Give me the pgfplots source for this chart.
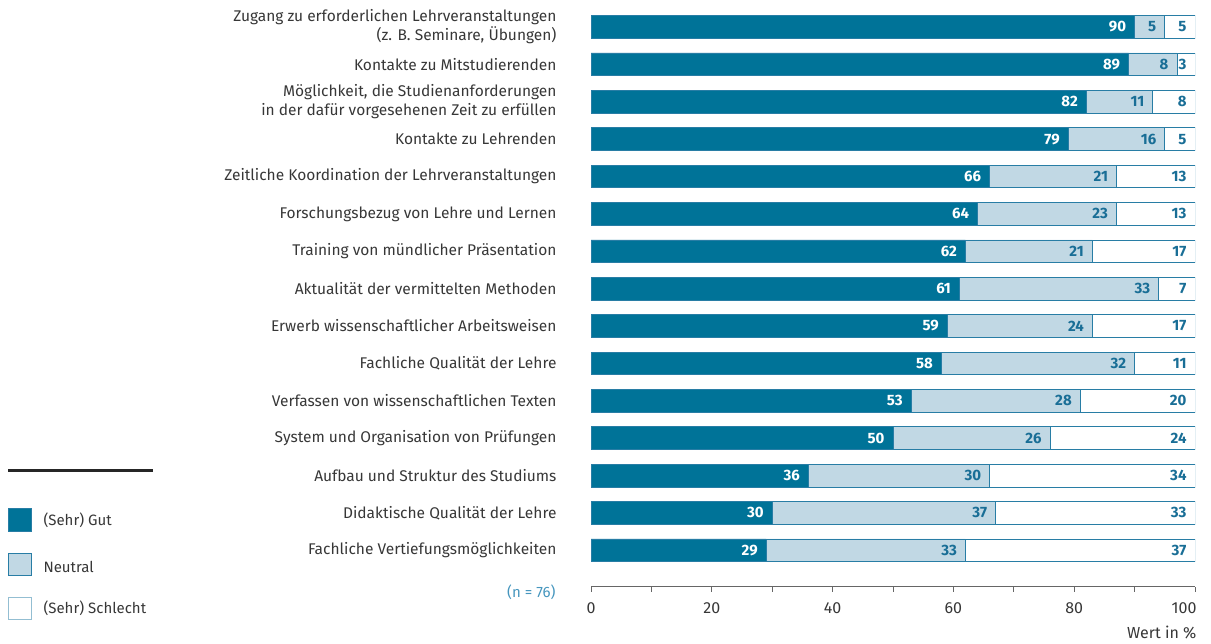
\documentclass[border=0pt]{standalone}
\usepackage{pgfplots}
\usepackage{pgfplotstable}
\pgfplotsset{compat=1.18}
\usepackage{fontspec}
\setmainfont{Fira Sans}
\definecolor{gut}{RGB}{0,115,152}
\definecolor{neutral}{RGB}{193,216,228}
\definecolor{rand}{RGB}{40,125,165}
\definecolor{txt}{RGB}{55,55,55}
\definecolor{zahl}{RGB}{25,110,150}
\definecolor{nblau}{RGB}{70,150,190}

% y: Position von unten, rest = 100 - gut - neu (Balken), sch = angezeigter Wert
\pgfplotstableread{
y  gut neu rest sch
14 90  5   5    5
13 89  8   3    3
12 82  11  7    8
11 79  16  5    5
10 66  21  13   13
9  64  23  13   13
8  62  21  17   17
7  61  33  6    7
6  59  24  17   17
5  58  32  10   11
4  53  28  19   20
3  50  26  24   24
2  36  30  34   34
1  30  37  33   33
0  29  33  38   37
}\daten

\pgfplotsset{
  geom/.style={scale only axis, width=604pt, height=581.8pt,
    at={(591pt,57.3pt)}, anchor=south west,
    xmin=0, xmax=100, ymin=-0.974, ymax=14.59,
    /pgf/number format/assume math mode=true},
  wert/.style={only marks, mark=none, point meta=explicit,
    nodes near coords,
    nodes near coords style={anchor=east, xshift=-5pt, text=#1,
      font=\bfseries\fontsize{15}{17}\selectfont}},
}

\begin{document}
\begin{tikzpicture}
\useasboundingbox (0,0) rectangle (1211pt,644pt);
\begin{axis}[geom,
    xbar stacked, bar width=22.7pt,
    axis x line*=bottom, axis y line*=left,
    y axis line style={draw=none},
    x axis line style={draw=black!60, line width=1pt, -},
    xtick={0,20,...,80}, minor xtick={10,30,...,90},
    extra x ticks={100},
    extra x tick style={xticklabel style={anchor=north east, xshift=5pt}},
    tick align=outside, major tick length=5pt, minor tick length=5pt,
    xtick style={draw=black!60, line width=1pt},
    ytick style={draw=none},
    xticklabel style={font=\fontsize{16}{18}\selectfont, text=txt, yshift=-7pt},
    ytick={0,...,14},
    yticklabels={Fachliche Vertiefungsmöglichkeiten,
        Didaktische Qualität der Lehre,
        Aufbau und Struktur des Studiums,
        System und Organisation von Prüfungen,
        Verfassen von wissenschaftlichen Texten,
        Fachliche Qualität der Lehre,
        Erwerb wissenschaftlicher Arbeitsweisen,
        Aktualität der vermittelten Methoden,
        Training von mündlicher Präsentation,
        Forschungsbezug von Lehre und Lernen,
        Zeitliche Koordination der Lehrveranstaltungen,
        Kontakte zu Lehrenden,
        {Möglichkeit, die Studienanforderungen\\in der dafür vorgesehenen Zeit zu erfüllen},
        Kontakte zu Mitstudierenden,
        {Zugang zu erforderlichen Lehrveranstaltungen\\(z. B. Seminare, Übungen)}},
    yticklabel style={font=\fontsize{15.5}{19}\selectfont, text=txt, align=right, xshift=-26pt},
    xlabel={Wert in \%},
    xlabel style={at={(axis description cs:1,0)}, anchor=north east, yshift=-36pt, xshift=5pt,
        font=\fontsize{16}{18}\selectfont, text=txt},
]
\addplot[fill=gut, draw=rand, line width=0.7pt] table[x=gut, y=y] {\daten};
\addplot[fill=neutral, draw=rand, line width=0.7pt] table[x=neu, y=y] {\daten};
\addplot[fill=white, draw=rand, line width=0.7pt] table[x=rest, y=y] {\daten};
\end{axis}
% Beschriftung der Segmente am jeweiligen Ende
\begin{axis}[geom, hide axis]
\addplot[wert=white] table[x=gut, y=y, meta=gut] {\daten};
\addplot[wert=zahl] table[x expr=\thisrow{gut}+\thisrow{neu}, y=y, meta=neu] {\daten};
\addplot[wert=zahl] table[x expr=100, y=y, meta=sch] {\daten};
\end{axis}
% Legende
\draw[black!85, line width=3pt] (8pt,173.3pt) -- (153pt,173.3pt);
\draw[fill=gut, draw=rand, line width=0.7pt] (8pt,113pt) rectangle (31pt,136pt);
\draw[fill=neutral, draw=rand, line width=0.7pt] (8pt,69pt) rectangle (31pt,91pt);
\draw[fill=white, draw=rand!50, line width=0.7pt] (8pt,25pt) rectangle (31pt,47pt);
\node[anchor=west, text=txt, font=\fontsize{15}{17}\selectfont] at (40pt,124pt) {(Sehr) Gut};
\node[anchor=west, text=txt, font=\fontsize{15}{17}\selectfont] at (40pt,77pt) {Neutral};
\node[anchor=west, text=txt, font=\fontsize{15}{17}\selectfont] at (40pt,36pt) {(Sehr) Schlecht};
\node[anchor=east, text=nblau, font=\fontsize{15}{17}\selectfont] at (559pt,52pt) {(n = 76)};
\end{tikzpicture}
\end{document}
